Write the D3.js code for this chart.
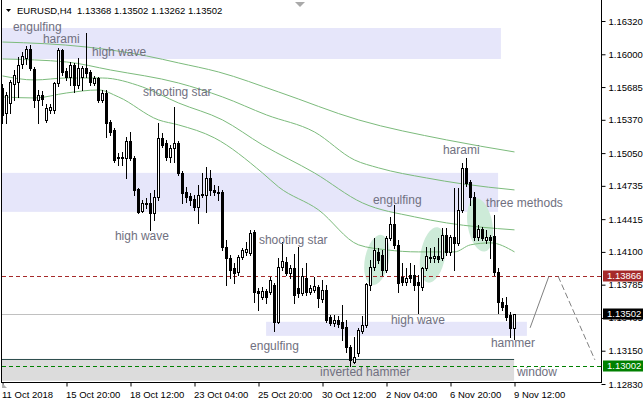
<!DOCTYPE html>
<html><head><meta charset="utf-8">
<script src="https://cdn.jsdelivr.net/npm/d3@7/dist/d3.min.js"></script>
<style>
html,body{margin:0;padding:0;background:#fff;}
svg{display:block;font-family:"Liberation Sans",Arial,sans-serif;}
</style></head><body>
<svg id="c" width="643" height="408"></svg>
<script>
// ---------- data ----------
const symbol = "EURUSD,H4";
const lastOHLC = [1.13368, 1.13502, 1.13262, 1.13502];

const open = [
1.15676,1.15436,1.15532,1.15715,1.15734,1.15907,1.15965,1.16051,1.15859,1.15561,
1.15609,1.15369,1.15465,1.15465,1.15724,1.16042,1.15840,1.15782,1.15897,1.15705,
1.15782,1.15869,1.15830,1.15724,1.15772,1.15561,1.15628,1.15350,1.15273,1.15013,
1.15004,1.15004,1.15167,1.15004,1.14706,1.14494,1.14562,1.14571,1.14475,1.14629,
1.15196,1.15148,1.15013,1.15100,1.15148,1.14860,1.14677,1.14638,1.14610,1.14533,
1.14648,1.14648,1.14811,1.14696,1.14677,1.14677,1.14148,1.14043,1.13947,1.13908,
1.14052,1.14100,1.14091,1.14293,1.13726,1.13668,1.13726,1.13716,1.13783,1.13428,
1.13956,1.14004,1.13898,1.13947,1.13754,1.13706,1.13850,1.13716,1.13735,1.13764,
1.13649,1.13735,1.13476,1.13418,1.13447,1.13428,1.13380,1.13187,1.13043,1.13130,
1.13341,1.13399,1.13783,1.13956,1.14100,1.14071,1.13927,1.14235,1.14369,1.14168,
1.13860,1.13812,1.13879,1.13879,1.13812,1.13764,1.13947,1.14043,1.14043,1.14062,
1.14043,1.14264,1.14100,1.14244,1.14187,1.14504,1.14908,1.14773,1.14629,1.14244,
1.14321,1.14216,1.14244,1.14254,1.13908,1.13620,1.13591,1.13495,1.13368];
const high = [
1.15715,1.15638,1.15753,1.15849,1.15974,1.16022,1.16080,1.16090,1.15878,1.15657,
1.15648,1.15523,1.15523,1.15734,1.16061,1.16051,1.15869,1.15926,1.15917,1.15965,
1.15888,1.16205,1.15849,1.15792,1.15782,1.15657,1.15657,1.15369,1.15292,1.15052,
1.15061,1.15205,1.15253,1.15023,1.14715,1.14600,1.14619,1.14667,1.14696,1.15340,
1.15244,1.15177,1.15129,1.15494,1.15167,1.14879,1.14725,1.14667,1.14648,1.14744,
1.14860,1.14917,1.14888,1.14744,1.14735,1.14696,1.14216,1.14071,1.13995,1.14071,
1.14139,1.14196,1.14312,1.14312,1.13754,1.13764,1.13745,1.13860,1.13802,1.14043,
1.14196,1.14052,1.13975,1.14081,1.14148,1.13947,1.13995,1.13783,1.13860,1.13783,
1.13831,1.13783,1.13495,1.13495,1.13485,1.13591,1.13447,1.13207,1.13283,1.13370,
1.13485,1.13802,1.14023,1.14235,1.14139,1.14120,1.14254,1.14437,1.14552,1.14216,
1.13995,1.13947,1.13995,1.13975,1.13879,1.13956,1.14148,1.14139,1.14148,1.14235,
1.14331,1.14331,1.14264,1.14715,1.14715,1.14956,1.15004,1.14792,1.14677,1.14360,
1.14341,1.14312,1.14264,1.14456,1.13947,1.13658,1.13668,1.13524,1.13502];
const low = [
1.15340,1.15340,1.15436,1.15561,1.15590,1.15869,1.15907,1.15849,1.15494,1.15340,
1.15513,1.15350,1.15436,1.15436,1.15696,1.15801,1.15753,1.15705,1.15638,1.15676,
1.15657,1.15782,1.15705,1.15705,1.15542,1.15542,1.15205,1.15225,1.14965,1.14936,
1.14936,1.14811,1.14984,1.14648,1.14475,1.14485,1.14523,1.14312,1.14408,1.14600,
1.15109,1.14984,1.14965,1.14965,1.14840,1.14571,1.14581,1.14552,1.14504,1.14379,
1.14629,1.14485,1.14648,1.14648,1.14600,1.14120,1.13783,1.13850,1.13802,1.13879,
1.14033,1.14071,1.14071,1.13620,1.13543,1.13649,1.13610,1.13697,1.13341,1.13418,
1.13927,1.13879,1.13850,1.13610,1.13668,1.13687,1.13687,1.13697,1.13716,1.13572,
1.13620,1.13428,1.13399,1.13389,1.13380,1.13255,1.13139,1.13002,1.13034,1.13101,
1.13322,1.13380,1.13735,1.13927,1.13995,1.13879,1.13908,1.14216,1.14139,1.13716,
1.13783,1.13783,1.13812,1.13735,1.13514,1.13735,1.13927,1.14004,1.14004,1.14004,
1.14023,1.14071,1.14071,1.13927,1.14168,1.14485,1.14735,1.14552,1.14216,1.14216,
1.14216,1.14187,1.14043,1.13879,1.13514,1.13543,1.13447,1.13283,1.13262];
const close = [
1.15417,1.15609,1.15734,1.15801,1.15897,1.15984,1.16051,1.15869,1.15561,1.15609,
1.15571,1.15484,1.15494,1.15724,1.16042,1.15830,1.15782,1.15897,1.15705,1.15869,
1.15869,1.15820,1.15734,1.15772,1.15561,1.15628,1.15340,1.15253,1.14984,1.15004,
1.15013,1.15167,1.15004,1.14696,1.14485,1.14571,1.14571,1.14475,1.14629,1.15196,
1.15129,1.15013,1.15100,1.15148,1.14860,1.14667,1.14629,1.14600,1.14533,1.14648,
1.14658,1.14811,1.14696,1.14677,1.14667,1.14148,1.14043,1.13927,1.13898,1.14052,
1.14120,1.14129,1.14283,1.13716,1.13706,1.13726,1.13668,1.13831,1.13428,1.13956,
1.14014,1.13898,1.13947,1.13687,1.13706,1.13870,1.13716,1.13754,1.13774,1.13658,
1.13735,1.13447,1.13418,1.13447,1.13408,1.13370,1.13187,1.13062,1.13091,1.13351,
1.13399,1.13793,1.13956,1.14120,1.14023,1.13927,1.14235,1.14369,1.14168,1.13802,
1.13812,1.13850,1.13850,1.13783,1.13783,1.13947,1.14062,1.14052,1.14062,1.14033,
1.14264,1.14100,1.14244,1.14187,1.14504,1.14908,1.14763,1.14629,1.14244,1.14321,
1.14235,1.14244,1.14216,1.13908,1.13620,1.13572,1.13476,1.13370,1.13502];

// moving averages: [bar index, price] read at knots
const maSlowest = [[0,1.16118],[21,1.16070],[36,1.15984],[44,1.15917],[54,1.15830],[69,1.15638],[89,1.15369],[111,1.15177],[128,1.15061]];
const maSlow = [[0,1.15955],[16,1.15926],[27,1.15849],[44,1.15724],[55,1.15590],[66,1.15417],[78,1.15253],[88,1.14984],[94,1.14908],[106,1.14811],[115,1.14754],[128,1.14696]];
const maMid = [[0,1.15792],[8,1.15753],[16,1.15772],[25,1.15772],[35,1.15686],[44,1.15532],[55,1.15369],[65,1.15129],[78,1.14859],[90,1.14571],[103,1.14437],[111,1.14379],[128,1.14312]];
const maFast = [[0,1.15590],[8,1.15580],[16,1.15628],[24,1.15657],[29,1.15590],[39,1.15369],[44,1.15321],[53,1.15196],[65,1.14859],[69,1.14725],[79,1.14504],[89,1.14168],[96,1.14120],[104,1.14100],[113,1.14100],[117,1.14168],[122,1.14187],[128,1.14100]];

const xTickBars = [0,16,32,48,64,80,96,112,128];
const xTickLabels = ["11 Oct 2018","15 Oct 20:00","18 Oct 12:00","23 Oct 04:00","25 Oct 20:00","30 Oct 12:00","2 Nov 04:00","6 Nov 20:00","9 Nov 12:00"];
const yTicks = [1.16320,1.16000,1.15685,1.15370,1.15050,1.14735,1.14415,1.14100,1.13785,1.13465,1.13150,1.12830];

// horizontal levels
const levelRed = 1.13866, levelBid = 1.13502, levelGreen = 1.13002;

// zones: [barFrom, barTo, priceA, priceB]
const blueZones = [[-1,124.6,1.16253,1.15955],[-1,123.9,1.14860,1.14485],[65.9,131.1,1.13428,1.13293]];
const grayZone = [-1,127.9,1.13072,1.12861];
// ellipses: [bar, price, radius in bars, radius in price, tilt deg]
const ellipses = [[93.6,1.14023,3.0,0.00245,11],[107.6,1.14071,3.1,0.00270,10],[119.4,1.14360,3.1,0.00260,-10]];
// projection segments
const projection1 = [[131.9,1.13370],[136.6,1.13866]];
const projection2 = [[138.9,1.13866],[148.1,1.13062]];

const labelTexts = ["engulfing","harami","high wave","shooting star","high wave","shooting star","engulfing","harami","three methods","high wave","engulfing","hammer","inverted hammer","window"];
const labelBars  = [2.6,10.1,22.4,35.1,28.1,64.1,92.6,110.1,120.9,97.1,61.9,122.1,79.4,128.6];
const labelPrices= [1.16225,1.16108,1.15984,1.15599,1.14216,1.14177,1.14562,1.15042,1.14533,1.13408,1.13159,1.13187,1.12909,1.12909];

// ---------- drawing ----------
const svg = d3.select("#c");
const W = 643, H = 408;
const plotL = 2, plotR = 601, plotB = 382;
const xs = d3.scaleLinear().domain([0,128]).range([2.5,514.5]);
const ys = d3.scaleLinear().domain([1.12830,1.16320]).range([384,21]);

svg.append("rect").attr("width",W).attr("height",H).attr("fill","#fff");
svg.append("defs").append("clipPath").attr("id","plot")
  .append("rect").attr("x",plotL).attr("y",0).attr("width",plotR-plotL).attr("height",plotB);
const g = svg.append("g").attr("clip-path","url(#plot)");

// zones
g.selectAll(".bz").data(blueZones).join("rect")
  .attr("x",d=>xs(d[0])).attr("width",d=>xs(d[1])-xs(d[0]))
  .attr("y",d=>ys(d[2])).attr("height",d=>ys(d[3])-ys(d[2]))
  .attr("fill","#e6e6fa");
g.append("rect").attr("x",xs(grayZone[0])).attr("width",xs(grayZone[1])-xs(grayZone[0]))
  .attr("y",ys(grayZone[2])).attr("height",ys(grayZone[3])-ys(grayZone[2])).attr("fill","#dcdcdc");
g.append("line").attr("x1",xs(grayZone[0])).attr("x2",xs(grayZone[1]))
  .attr("y1",Math.round(ys(grayZone[2]))+0.5).attr("y2",Math.round(ys(grayZone[2]))+0.5)
  .attr("stroke","#2f4f4f").attr("stroke-width",1);

// ellipses
const pxPerBar = xs(1)-xs(0);
g.selectAll(".el").data(ellipses).join("ellipse")
  .attr("transform",d=>`translate(${xs(d[0])},${ys(d[1])}) rotate(${d[4]})`)
  .attr("rx",d=>d[2]*pxPerBar).attr("ry",d=>ys(d[1]-d[3])-ys(d[1]))
  .attr("fill","#cdebd8");

// levels
const hl = (p,color,dash)=>{ const y=Math.round(ys(p))+0.5;
  g.append("line").attr("x1",plotL).attr("x2",plotR).attr("y1",y).attr("y2",y)
   .attr("stroke",color).attr("stroke-width",1).attr("stroke-dasharray",dash||null); };
hl(levelBid,"#c0c0c0");
hl(levelRed,"#a52a2a","4,3");
hl(levelGreen,"#008000","4,3");

// moving averages
const maLine = d3.line().x(d=>xs(d[0])).y(d=>ys(d[1])).curve(d3.curveMonotoneX);
[maSlowest,maSlow,maMid,maFast].forEach(m=>{
  g.append("path").attr("d",maLine(m)).attr("fill","none").attr("stroke","#7cbb7c").attr("stroke-width",1);
});

// projection
const pl = d3.line().x(d=>xs(d[0])).y(d=>ys(d[1]));
g.append("path").attr("d",pl(projection1)).attr("stroke","#808080").attr("fill","none").attr("stroke-width",1);
g.append("path").attr("d",pl(projection2)).attr("stroke","#808080").attr("fill","none").attr("stroke-width",1).attr("stroke-dasharray","6,3");

// candles
const bars = open.map((o,i)=>({i,o,h:high[i],l:low[i],c:close[i]}));
const cg = g.append("g");
bars.forEach(b=>{
  const x = xs(b.i);
  const hi = Math.max(b.h,b.o,b.c), lo = Math.min(b.l,b.o,b.c);
  cg.append("line").attr("x1",x).attr("x2",x)
    .attr("y1",Math.round(ys(hi))).attr("y2",Math.round(ys(lo))+1)
    .attr("stroke","#000").attr("stroke-width",1);
  const yT = Math.round(ys(Math.max(b.o,b.c)))+0.5, yB = Math.round(ys(Math.min(b.o,b.c)))+0.5;
  if (yB-yT < 1) {
    cg.append("line").attr("x1",x-1.5).attr("x2",x+1.5).attr("y1",yT).attr("y2",yT).attr("stroke","#000");
  } else {
    cg.append("rect").attr("x",x-1).attr("width",2).attr("y",yT).attr("height",yB-yT)
      .attr("fill",b.c>=b.o?"#fff":"#000").attr("stroke","#000").attr("stroke-width",1);
  }
});

// pattern labels
g.selectAll(".lb").data(labelTexts).join("text")
  .attr("x",(d,i)=>xs(labelBars[i])).attr("y",(d,i)=>ys(labelPrices[i]))
  .attr("font-size","12px").attr("fill","#707080").text(d=>d);

// frame
svg.append("line").attr("x1",1.5).attr("x2",1.5).attr("y1",0).attr("y2",plotB+1).attr("stroke","#000");
svg.append("line").attr("x1",plotR+0.5).attr("x2",plotR+0.5).attr("y1",0).attr("y2",plotB+1).attr("stroke","#000");
svg.append("line").attr("x1",1.5).attr("x2",plotR+0.5).attr("y1",plotB+0.5).attr("y2",plotB+0.5).attr("stroke","#000");

// right axis
const ya = svg.append("g").attr("transform",`translate(${plotR+0.5},0)`)
  .call(d3.axisRight(ys).tickValues(yTicks).tickSize(4).tickPadding(3).tickFormat(d3.format(".5f")));
ya.select(".domain").remove();
ya.selectAll("text").attr("font-size","9.5px").attr("font-family","Liberation Sans, Arial, sans-serif").attr("fill","#000");
ya.selectAll("line").attr("stroke","#000");

// bottom axis
const xa = svg.append("g").attr("transform",`translate(0,${plotB+0.5})`)
  .call(d3.axisBottom(xs).tickValues(xTickBars).tickSize(4).tickPadding(5).tickFormat((d,i)=>xTickLabels[i]));
xa.select(".domain").remove();
xa.selectAll("text").attr("text-anchor","start").attr("x",-1).attr("font-size","9.5px")
  .attr("font-family","Liberation Sans, Arial, sans-serif").attr("fill","#000");
xa.selectAll("line").attr("stroke","#000");

// price tags
const tag = (p,bg)=>{ const y=ys(p);
  svg.append("rect").attr("x",plotR+2).attr("y",Math.round(y)-5.5).attr("width",W-plotR-2).attr("height",11).attr("fill",bg);
  svg.append("text").attr("x",plotR+6).attr("y",y).attr("dy","0.34em").attr("font-size","9.5px")
     .attr("fill","#fff").text(d3.format(".5f")(p)); };
tag(levelRed,"#a52a2a");
tag(levelBid,"#000");
tag(levelGreen,"#008000");

// markers
svg.append("polygon").attr("points","295,2 305,2 300,7").attr("fill","#a9a9a9");
svg.append("polygon").attr("points","2,383 7,388 2,388").attr("fill","#b0b0b0");
svg.append("polygon").attr("points","6,9 11,9 8.5,12").attr("fill","#000");

// title
svg.append("text").attr("x",17).attr("y",14).attr("font-size","9.5px").attr("fill","#000").text(symbol);
svg.append("text").attr("x",77).attr("y",14).attr("font-size","9.5px").attr("fill","#000")
  .text(lastOHLC.map(d3.format(".5f")).join(" "));
</script>
</body></html>
